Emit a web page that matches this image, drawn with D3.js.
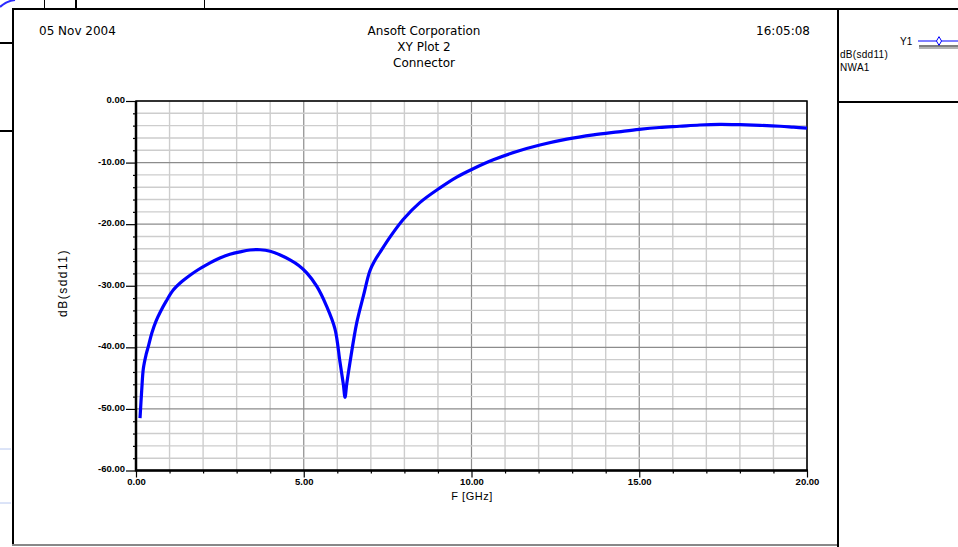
<!DOCTYPE html>
<html>
<head>
<meta charset="utf-8">
<script src="https://cdn.jsdelivr.net/npm/d3@7"></script>
<style>
  html, body { margin: 0; padding: 0; background: #fff; }
  svg { display: block; }
  .hdr { font-family: "DejaVu Sans", "Liberation Sans", Arial, sans-serif; font-size: 12px; fill: #000; }
  .tick-lbl { font-family: "Liberation Sans Narrow", "Liberation Sans", Arial, sans-serif; font-size: 9.5px; font-weight: bold; fill: #000; }
  .small { font-family: "Liberation Sans", Arial, sans-serif; font-size: 11px; fill: #000; }
</style>
</head>
<body>
<svg id="chart" width="958" height="547"></svg>
<script>
// dB(sdd11) versus frequency, NWA1 sweep
const freqGHz = [
  0.12, 0.17, 0.22, 0.30, 0.37, 0.47, 0.60, 0.72, 0.90, 1.11,
  1.35, 1.61, 1.85, 2.10, 2.50, 2.80, 3.10, 3.40, 3.70, 4.00, 4.30,
  4.59, 4.85, 5.09, 5.39, 5.68, 5.93, 6.08, 6.18, 6.23, 6.28,
  6.38, 6.58, 6.78, 6.97, 7.12, 7.27, 7.57, 7.97, 8.46, 9.06, 9.56,
  10.05, 10.65, 11.35, 12.04, 12.84, 13.63, 14.38, 15.00, 15.60, 16.20,
  16.80, 17.40, 18.00, 18.60, 19.20, 19.60, 20.00
];
const sdd11dB = [
  -51.5, -47.0, -43.4, -41.2, -39.8, -37.7, -35.7, -34.3, -32.5, -30.7,
  -29.4, -28.3, -27.4, -26.6, -25.5, -24.9, -24.5, -24.2, -24.15, -24.4, -25.0,
  -25.8, -26.7, -27.9, -30.1, -33.3, -37.0, -42.4, -46.0, -48.1, -46.0,
  -42.4, -36.0, -31.6, -27.6, -25.9, -24.6, -22.1, -19.2, -16.5, -14.1, -12.35,
  -11.0, -9.55, -8.2, -7.15, -6.2, -5.5, -5.0, -4.6, -4.3, -4.1,
  -3.9, -3.8, -3.85, -3.95, -4.1, -4.25, -4.4
];
const xMajorTicks = [0, 5, 10, 15, 20];
const xMinorTicks = d3.range(0, 21, 1);
const yMajorTicks = [0, -10, -20, -30, -40, -50, -60];
const yMinorTicks = d3.range(-60, 1, 2);

const headerLeft = "05 Nov 2004";
const headerTitle = ["Ansoft Corporation", "XY Plot 2", "Connector"];
const headerTime = "16:05:08";
const xAxisTitle = "F [GHz]";
const yAxisTitle = "dB(sdd11)";
const legendName = "Y1";
const legendLines = ["dB(sdd11)", "NWA1"];

const svg = d3.select("#chart");

// plot rectangle
const L = 136, R = 807, T = 101, B = 470.5;
const x = d3.scaleLinear().domain([0, 20]).range([L, R]);
const y = d3.scaleLinear().domain([-60, 0]).range([B, T]);

// window chrome around the report panel
const chrome = svg.append("g");
chrome.append("path").attr("d", "M0,7 Q6,1 15,0").attr("fill", "none").attr("stroke", "#2a2aff").attr("stroke-width", 2);
[[44.5, 1], [76, 2], [204.5, 1]].forEach(([px, w]) => {
  chrome.append("line").attr("x1", px).attr("x2", px).attr("y1", 0).attr("y2", 9)
    .attr("stroke", "#000").attr("stroke-width", w);
});
[43, 131].forEach(py => {
  chrome.append("line").attr("x1", 0).attr("x2", 12).attr("y1", py).attr("y2", py)
    .attr("stroke", "#000").attr("stroke-width", 2);
});
[449, 503].forEach(py => {
  chrome.append("line").attr("x1", 0).attr("x2", 11).attr("y1", py).attr("y2", py)
    .attr("stroke", "#b8c8f0").attr("stroke-width", 1);
});
// panel frames
chrome.append("line").attr("x1", 12).attr("x2", 958).attr("y1", 9).attr("y2", 9).attr("stroke", "#000").attr("stroke-width", 2);
chrome.append("line").attr("x1", 13).attr("x2", 13).attr("y1", 8).attr("y2", 545).attr("stroke", "#000").attr("stroke-width", 2);
chrome.append("line").attr("x1", 12).attr("x2", 838).attr("y1", 545).attr("y2", 545).attr("stroke", "#888").attr("stroke-width", 2);
chrome.append("line").attr("x1", 838).attr("x2", 838).attr("y1", 8).attr("y2", 547).attr("stroke", "#000").attr("stroke-width", 2);
chrome.append("line").attr("x1", 838).attr("x2", 958).attr("y1", 102).attr("y2", 102).attr("stroke", "#000").attr("stroke-width", 2);

// header
svg.append("text").attr("class", "hdr").attr("x", 39).attr("y", 35).text(headerLeft);
headerTitle.forEach((t, i) => {
  svg.append("text").attr("class", "hdr").attr("x", 424).attr("y", 35 + i * 16)
    .attr("text-anchor", "middle").text(t);
});
svg.append("text").attr("class", "hdr").attr("x", 810).attr("y", 35).attr("text-anchor", "end").text(headerTime);

// grid
const grid = svg.append("g");
xMinorTicks.forEach(v => {
  const major = xMajorTicks.includes(v);
  grid.append("line").attr("x1", x(v)).attr("x2", x(v)).attr("y1", T).attr("y2", B)
    .attr("stroke", major ? "#8c8c8c" : "#cdcdcd").attr("stroke-width", major ? 1.2 : 1.4);
});
yMinorTicks.forEach(v => {
  const major = yMajorTicks.includes(v);
  grid.append("line").attr("x1", L).attr("x2", R).attr("y1", y(v)).attr("y2", y(v))
    .attr("stroke", major ? "#8c8c8c" : "#cdcdcd").attr("stroke-width", major ? 1.2 : 1.4);
});

// axes
const yAxis = d3.axisLeft(y).tickValues(yMajorTicks).tickSize(10).tickPadding(1)
  .tickFormat(d => d.toFixed(2));
const gy = svg.append("g").attr("transform", `translate(${L},0)`).call(yAxis);
gy.select(".domain").remove();
gy.selectAll(".tick line").attr("stroke", "#000").attr("stroke-width", 1.2);
gy.selectAll(".tick text").attr("class", "tick-lbl").attr("dy", "0.15em");

const yMinor = d3.axisLeft(y).tickValues(yMinorTicks.filter(v => !yMajorTicks.includes(v))).tickSize(3).tickFormat("");
const gym = svg.append("g").attr("transform", `translate(${L},0)`).call(yMinor);
gym.select(".domain").remove();
gym.selectAll(".tick line").attr("stroke", "#000").attr("stroke-width", 1.2);

const xAxis = d3.axisBottom(x).tickValues(xMajorTicks).tickSize(7).tickPadding(-1)
  .tickFormat(d => d.toFixed(2));
const gx = svg.append("g").attr("transform", `translate(0,${B})`).call(xAxis);
gx.select(".domain").remove();
gx.selectAll(".tick line").attr("stroke", "#000").attr("stroke-width", 1.2);
gx.selectAll(".tick text").attr("class", "tick-lbl").attr("dy", "0.85em");

const xMinor = d3.axisBottom(x).tickValues(xMinorTicks.filter(v => !xMajorTicks.includes(v))).tickSize(3).tickFormat("");
const gxm = svg.append("g").attr("transform", `translate(0,${B})`).call(xMinor);
gxm.select(".domain").remove();
gxm.selectAll(".tick line").attr("stroke", "#000").attr("stroke-width", 1.2);

// plot frame
svg.append("rect").attr("x", L).attr("y", T).attr("width", R - L).attr("height", B - T)
  .attr("fill", "none").attr("stroke", "#000").attr("stroke-width", 1.5);
svg.append("line").attr("x1", L).attr("x2", L).attr("y1", T).attr("y2", B + 1).attr("stroke", "#000").attr("stroke-width", 2.5);
svg.append("line").attr("x1", L).attr("x2", R + 1).attr("y1", B).attr("y2", B).attr("stroke", "#000").attr("stroke-width", 2.5);

// axis titles
svg.append("text").attr("class", "small").attr("x", 472).attr("y", 500)
  .attr("text-anchor", "middle").style("letter-spacing", "0.5px").text(xAxisTitle);
svg.append("text").attr("class", "small")
  .attr("transform", "translate(67,283) rotate(-90)")
  .attr("text-anchor", "middle").style("font-size", "12px").style("letter-spacing", "1.5px")
  .text(yAxisTitle);

// trace
const pts = freqGHz.map((f, i) => [f, sdd11dB[i]]);
const line = d3.line().x(d => x(d[0])).y(d => y(d[1])).curve(d3.curveCatmullRom.alpha(0.5));
svg.append("path").datum(pts).attr("d", line)
  .attr("fill", "none").attr("stroke", "#0000ff").attr("stroke-width", 3.2)
  .attr("stroke-linejoin", "round");

// legend
const lg = svg.append("g");
lg.append("text").attr("class", "small").attr("x", 900).attr("y", 45).style("font-size", "10px").text(legendName);
lg.append("line").attr("x1", 918).attr("x2", 958).attr("y1", 41).attr("y2", 41).attr("stroke", "#0000ff").attr("stroke-width", 1.2);
lg.append("path").attr("d", d3.symbol().type(d3.symbolDiamond).size(22)())
  .attr("transform", "translate(939,41)").attr("fill", "#fff").attr("stroke", "#0000ff").attr("stroke-width", 1);
lg.append("line").attr("x1", 919).attr("x2", 958).attr("y1", 46).attr("y2", 46).attr("stroke", "#000").attr("stroke-width", 1.2);
lg.append("line").attr("x1", 919).attr("x2", 958).attr("y1", 48).attr("y2", 48).attr("stroke", "#666").attr("stroke-width", 1);
legendLines.forEach((t, i) => {
  lg.append("text").attr("class", "small").attr("x", 840).attr("y", 58 + i * 13)
    .style("font-size", "10px").style("letter-spacing", "0.3px").text(t);
});
</script>
</body>
</html>
